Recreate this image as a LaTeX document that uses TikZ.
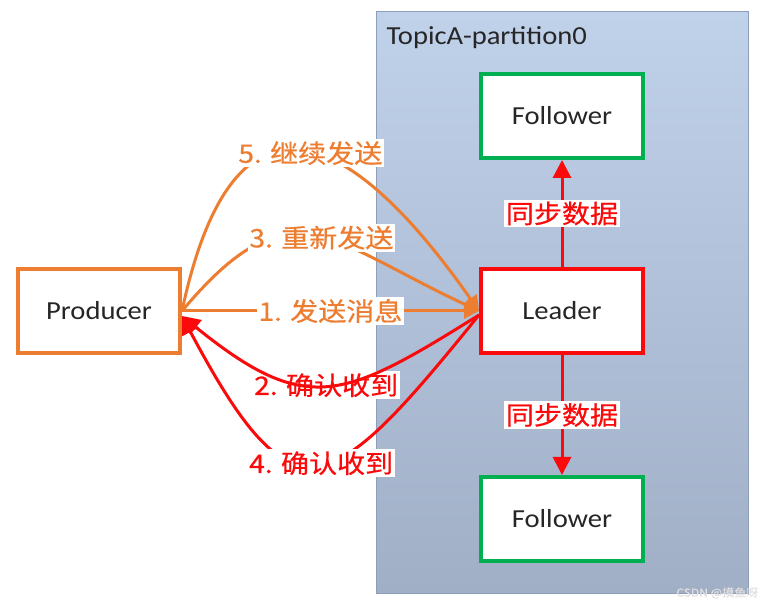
\documentclass[tikz,border=0pt]{standalone}
\usepackage{fontspec}
\setmainfont{Carlito}[FakeStretch=1.1]
\newfontfamily\cjk{Noto Sans CJK SC}[FakeStretch=1.1,FakeBold=0.6]
\usetikzlibrary{arrows.meta}
\definecolor{korange}{RGB}{237,125,49}
\definecolor{kred}{RGB}{250,10,10}
\definecolor{kgreen}{RGB}{0,176,80}
\definecolor{paneltop}{RGB}{192,209,234}
\definecolor{panelbot}{RGB}{160,175,198}
\definecolor{panelline}{RGB}{140,158,186}
\begin{document}
\begin{tikzpicture}[x=1pt,y=1pt, every node/.style={font=\fontsize{26}{30}\selectfont,text=black!85},
  box/.style={draw,fill=white,line width=4pt,minimum width=162pt,minimum height=84pt},
  lbl/.style={fill=white,inner sep=2pt,font=\cjk\fontsize{25.5}{28}\selectfont},
  oline/.style={korange,line width=3pt,-{Triangle[width=15pt,length=15pt]}},
  rline/.style={kred,line width=3pt,-{Triangle[width=18pt,length=18pt]}}]
\useasboundingbox (0,0) rectangle (772,609);
% partition
\shade[top color=paneltop,bottom color=panelbot,draw=panelline,line width=1pt] (376,15) rectangle (748,597);
\node[anchor=west] (topic) at (383,571) {TopicA-partition0};
\node[box,draw=kgreen] (f1) at (562,493) {Follower};
\node[box,draw=kred] (lead) at (562,298) {Leader};
\node[box,draw=kgreen] (f2) at (562,90) {Follower};
\node[box,draw=korange] (prod) at (99,298) {Producer};
% sync
\draw[rline] (lead) -- node[lbl,text=kred]{同步数据} (f1);
\draw[rline] (lead) -- node[lbl,text=kred]{同步数据} (f2);
% send
\draw[oline] (prod.east) -- node[lbl,text=korange]{1. 发送消息} (lead.west);
\draw[oline] (prod.east) to[out=50,in=155,looseness=1.45] node[lbl,text=korange,pos=0.53]{3. 重新发送} (lead.west);
\draw[oline] (prod.east) to[out=78,in=125,looseness=2.05] node[lbl,text=korange,pos=0.54]{5. 继续发送} (lead.west);
% ack
\draw[rline] ([yshift=-4pt]lead.west) to[out=212,in=-39,looseness=1.38] node[lbl,text=kred,behind path,pos=0.5]{2. 确认收到} ([yshift=-5pt]prod.east);
\draw[rline] ([yshift=-4pt]lead.west) to[out=231,in=-62,looseness=2.05] node[lbl,text=kred,pos=0.48]{4. 确认收到} ([yshift=-5pt]prod.east);
\node[anchor=east,font=\cjk\fontsize{11}{12}\selectfont,text=white!75!gray] (mark) at (762,16) {CSDN @摸鱼呀};
\end{tikzpicture}
\end{document}
